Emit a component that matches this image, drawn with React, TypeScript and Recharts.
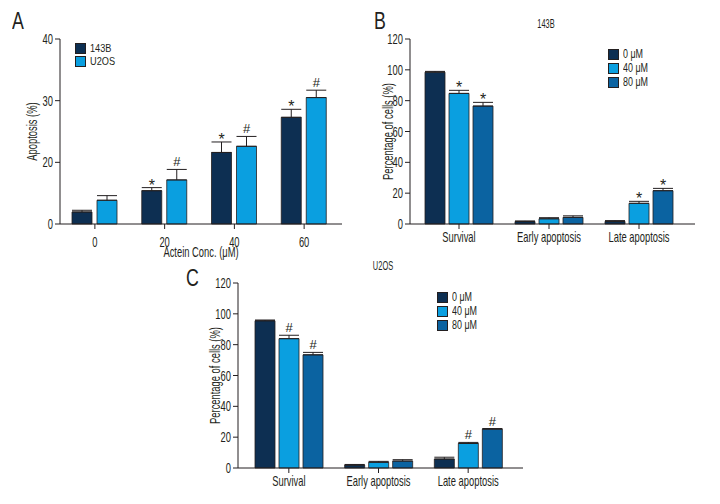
import { BarChart, Bar, XAxis, YAxis, ErrorBar, LabelList, Legend } from 'recharts';

const FONT = "'Liberation Sans', Arimo, Arial, sans-serif";
const SX = 0.67; // horizontal squeeze to mimic the condensed face of the original
const INK = '#231f20';
const NAVY = '#0d2f52';
const SKY = '#0a9fe0';
const MID = '#0b63a1';

// ---- panel A: apoptosis vs actein concentration (segmented y axis 0-20 | 20-40)
const concLabels = ['0', '20', '40', '60'];
const apo143B = [3.9, 10.8, 21.6, 27.3];
const apo143BErr = [0.55, 1.0, 1.7, 1.3];
const apoU2OS = [7.7, 14.3, 22.6, 30.5];
const apoU2OSErr = [1.5, 3.4, 1.6, 1.2];
const marks143B = ['', '*', '*', '*'];
const marksU2OS = ['', '#', '#', '#'];
const apoTicks = [0, 20, 30, 40];

// ---- panels B / C: cell fate per cell line
const phaseLabels = ['Survival', 'Early apoptosis', 'Late apoptosis'];
const pctTicks = [0, 20, 40, 60, 80, 100, 120];

const b143_0 = [98.5, 1.6, 1.7];
const b143_0Err = [0.5, 0.4, 0.5];
const b143_40 = [84.7, 3.4, 13.4];
const b143_40Err = [2.0, 0.7, 1.3];
const b143_80 = [76.5, 4.3, 21.6];
const b143_80Err = [2.4, 1.0, 1.5];
const b143Marks40 = ['*', '', '*'];
const b143Marks80 = ['*', '', '*'];

const u2os_0 = [95.5, 1.9, 5.8];
const u2os_0Err = [0.5, 0.4, 1.2];
const u2os_40 = [83.9, 3.7, 15.9];
const u2os_40Err = [2.2, 0.6, 0.7];
const u2os_80 = [73.4, 4.5, 25.2];
const u2os_80Err = [1.6, 0.9, 0.4];
const u2osMarks40 = ['#', '', '#'];
const u2osMarks80 = ['#', '', '#'];

// piecewise linear scale, handed to recharts as a d3-like scale
function makeSegmentScale(breaks: number[], stops: number[]) {
  let dom = [breaks[0], breaks[breaks.length - 1]];
  let rng = [0, 1];
  const scale: any = (v: number) => {
    let i = 1;
    while (i < breaks.length - 1 && v > breaks[i]) i++;
    const t = (v - breaks[i - 1]) / (breaks[i] - breaks[i - 1]);
    const f = stops[i - 1] + t * (stops[i] - stops[i - 1]);
    return rng[0] + f * (rng[1] - rng[0]);
  };
  scale.domain = (d?: number[]) => {
    if (!d) return dom.slice();
    dom = d.slice();
    return scale;
  };
  scale.range = (r?: number[]) => {
    if (!r) return rng.slice();
    rng = r.slice();
    return scale;
  };
  scale.copy = () => scale;
  scale.ticks = () => breaks.slice();
  scale.tickFormat = () => (v: number) => String(v);
  return scale;
}

const scaleA = makeSegmentScale([0, 20, 40], [0, 1 / 3, 1]);
const scaleB = makeSegmentScale([0, 120], [0, 1]);
const scaleC = makeSegmentScale([0, 120], [0, 1]);

const dataA = concLabels.map((c, i) => ({
  conc: c,
  b143: apo143B[i],
  b143Err: [0, apo143BErr[i]],
  b143Mark: marks143B[i],
  u2os: apoU2OS[i],
  u2osErr: [0, apoU2OSErr[i]],
  u2osMark: marksU2OS[i],
}));

const buildPhaseData = (s0: number[], e0: number[], s40: number[], e40: number[], s80: number[], e80: number[], m40: string[], m80: string[]) =>
  phaseLabels.map((p, i) => ({
    phase: p,
    c0: s0[i],
    c0Err: [0, e0[i]],
    c40: s40[i],
    c40Err: [0, e40[i]],
    c40Mark: m40[i],
    c80: s80[i],
    c80Err: [0, e80[i]],
    c80Mark: m80[i],
  }));

const dataB = buildPhaseData(b143_0, b143_0Err, b143_40, b143_40Err, b143_80, b143_80Err, b143Marks40, b143Marks80);
const dataC = buildPhaseData(u2os_0, u2os_0Err, u2os_40, u2os_40Err, u2os_80, u2os_80Err, u2osMarks40, u2osMarks80);

// squeezed svg text
const CText = ({ x, y, angle = 0, anchor = 'middle', size = 14, dy = 0, children }: any) => (
  <text
    transform={`translate(${x},${y}) rotate(${angle}) scale(${SX},1)`}
    textAnchor={anchor}
    dy={dy}
    fontSize={size}
    fill={INK}
    fontFamily={FONT}
  >
    {children}
  </text>
);

const xTick = (p: any) => (
  <CText x={p.x} y={p.y} anchor="middle" dy="0.72em">
    {p.payload.value}
  </CText>
);

const yTick = (p: any) => (
  <CText x={p.x} y={p.y} anchor="end" dy="0.36em">
    {p.payload.value}
  </CText>
);

const yTitle = (text: string, offset: number) => (p: any) => {
  const vb = p.viewBox || p;
  return (
    <CText x={vb.x + offset} y={vb.y + vb.height / 2} angle={-90} dy="0.36em">
      {text}
    </CText>
  );
};

const xTitle = (text: string, baseline: number) => (p: any) => {
  const vb = p.viewBox || p;
  return (
    <CText x={vb.x + vb.width / 2} y={vb.y + baseline}>
      {text}
    </CText>
  );
};

const markContent = (scale: any, vals: number[], errs: number[]) => (props: any) => {
  const mark = props.value;
  if (!mark) return null;
  const vb = props.viewBox || props;
  const cx = vb.x + vb.width / 2;
  const top = scale(vals[props.index] + errs[props.index]);
  const star = mark === '*';
  return (
    <text x={cx} y={top + (star ? 3 : -3)} textAnchor="middle" fontSize={star ? 16 : 13} fill={INK} fontFamily={FONT}>
      {mark}
    </text>
  );
};

const legendContent = (pitch: number, size: number, squeeze: number) => (props: any) => (
  <div style={{ fontFamily: FONT }}>
    {(props.payload || []).map((p: any) => (
      <div
        key={p.value}
        style={{ display: 'flex', alignItems: 'center', height: pitch, lineHeight: `${pitch}px`, fontSize: size, color: INK, whiteSpace: 'nowrap' }}
      >
        <span style={{ display: 'inline-block', flex: 'none', width: 11, height: 11, background: p.color, border: `1px solid ${INK}`, boxSizing: 'border-box', marginRight: 4 }} />
        <span style={{ display: 'inline-block', transform: `scaleX(${squeeze})`, transformOrigin: 'left center' }}>{p.value}</span>
      </div>
    ))}
  </div>
);

const errProps = { width: 10, stroke: INK, strokeWidth: 1, direction: 'y' as const, isAnimationActive: false };

const PanelLetter = ({ ch, left, top }: { ch: string; left: number; top: number }) => (
  <div style={{ position: 'absolute', left, top, fontSize: 24, lineHeight: '24px', color: INK, transform: 'scaleX(0.74)', transformOrigin: 'left top' }}>{ch}</div>
);

const PanelTitle = ({ text, cx, top }: { text: string; cx: number; top: number }) => (
  <div style={{ position: 'absolute', left: cx - 40, width: 80, top, textAlign: 'center', fontSize: 12, lineHeight: '14px', color: INK, transform: 'scaleX(0.62)' }}>{text}</div>
);

const PhaseChart = ({ data, scale, s40, e40, s80, e80, width, height, margin, yWidth, labelOffset, padding, legendPos }: any) => (
  <BarChart width={width} height={height} data={data} margin={margin} barSize={20} barGap={4}>
    <XAxis dataKey="phase" type="category" stroke={INK} tickSize={5} tickMargin={3} height={30} tick={xTick} padding={padding} interval={0} />
    <YAxis
      type="number"
      domain={[0, 120]}
      ticks={pctTicks}
      scale={scale}
      width={yWidth}
      stroke={INK}
      tickSize={5}
      tickMargin={2}
      tick={yTick}
      interval={0}
      label={{ content: yTitle('Percentage of cells (%)', labelOffset) }}
    />
    <Legend layout="vertical" align="center" verticalAlign="middle" wrapperStyle={{ left: legendPos[0], top: legendPos[1], width: 80 }} content={legendContent(14, 12.4, 0.72)} />
    <Bar dataKey="c0" name="0 μM" fill={NAVY} stroke={INK} strokeWidth={0.8} isAnimationActive={false}>
      <ErrorBar dataKey="c0Err" {...errProps} />
    </Bar>
    <Bar dataKey="c40" name="40 μM" fill={SKY} stroke={INK} strokeWidth={0.8} isAnimationActive={false}>
      <ErrorBar dataKey="c40Err" {...errProps} />
      <LabelList dataKey="c40Mark" content={markContent(scale, s40, e40)} />
    </Bar>
    <Bar dataKey="c80" name="80 μM" fill={MID} stroke={INK} strokeWidth={0.8} isAnimationActive={false}>
      <ErrorBar dataKey="c80Err" {...errProps} />
      <LabelList dataKey="c80Mark" content={markContent(scale, s80, e80)} />
    </Bar>
  </BarChart>
);

export default function App() {
  return (
    <div style={{ position: 'absolute', left: 0, top: 0, width: 720, height: 504, background: '#fff', overflow: 'hidden', fontFamily: FONT, color: INK }}>
      {/* A */}
      <div style={{ position: 'absolute', left: 0, top: 0 }}>
        <BarChart width={360} height={260} data={dataA} margin={{ top: 39, right: 18, bottom: 4, left: 0 }} barSize={20} barGap={5}>
          <XAxis
            dataKey="conc"
            type="category"
            stroke={INK}
            tickSize={5}
            tickMargin={8}
            height={32}
            tick={xTick}
            padding={{ left: 0, right: 3 }}
            interval={0}
            label={{ content: xTitle('Actein Conc. (μM)', 33) }}
          />
          <YAxis
            type="number"
            domain={[0, 40]}
            ticks={apoTicks}
            scale={scaleA}
            width={60}
            stroke={INK}
            tickSize={5}
            tickMargin={2}
            tick={yTick}
            interval={0}
            label={{ content: yTitle('Apoptosis (%)', 32) }}
          />
          <Legend layout="vertical" align="center" verticalAlign="middle" wrapperStyle={{ left: 75, top: 42, width: 70 }} content={legendContent(13, 11.5, 0.8)} />
          <Bar dataKey="b143" name="143B" fill={NAVY} stroke={INK} strokeWidth={0.8} isAnimationActive={false}>
            <ErrorBar dataKey="b143Err" {...errProps} />
            <LabelList dataKey="b143Mark" content={markContent(scaleA, apo143B, apo143BErr)} />
          </Bar>
          <Bar dataKey="u2os" name="U2OS" fill={SKY} stroke={INK} strokeWidth={0.8} isAnimationActive={false}>
            <ErrorBar dataKey="u2osErr" {...errProps} />
            <LabelList dataKey="u2osMark" content={markContent(scaleA, apoU2OS, apoU2OSErr)} />
          </Bar>
        </BarChart>
      </div>
      <PanelLetter ch="A" left={12} top={9} />

      {/* B */}
      <div style={{ position: 'absolute', left: 360, top: 0 }}>
        <PhaseChart
          data={dataB}
          scale={scaleB}
          s40={b143_40}
          e40={b143_40Err}
          s80={b143_80}
          e80={b143_80Err}
          width={360}
          height={260}
          margin={{ top: 39, right: 25, bottom: 6, left: 0 }}
          yWidth={50}
          labelOffset={28}
          padding={{ left: 4, right: 11 }}
          legendPos={[248, 47]}
        />
      </div>
      <PanelLetter ch="B" left={374} top={9} />
      <PanelTitle text="143B" cx={546} top={17} />

      {/* C */}
      <div style={{ position: 'absolute', left: 180, top: 250 }}>
        <PhaseChart
          data={dataC}
          scale={scaleC}
          s40={u2os_40}
          e40={u2os_40Err}
          s80={u2os_80}
          e80={u2os_80Err}
          width={360}
          height={254}
          margin={{ top: 33, right: 17, bottom: 6, left: 0 }}
          yWidth={58}
          labelOffset={35}
          padding={{ left: 6, right: 10 }}
          legendPos={[257, 40]}
        />
      </div>
      <PanelLetter ch="C" left={186} top={266} />
      <PanelTitle text="U2OS" cx={383} top={259} />
    </div>
  );
}
